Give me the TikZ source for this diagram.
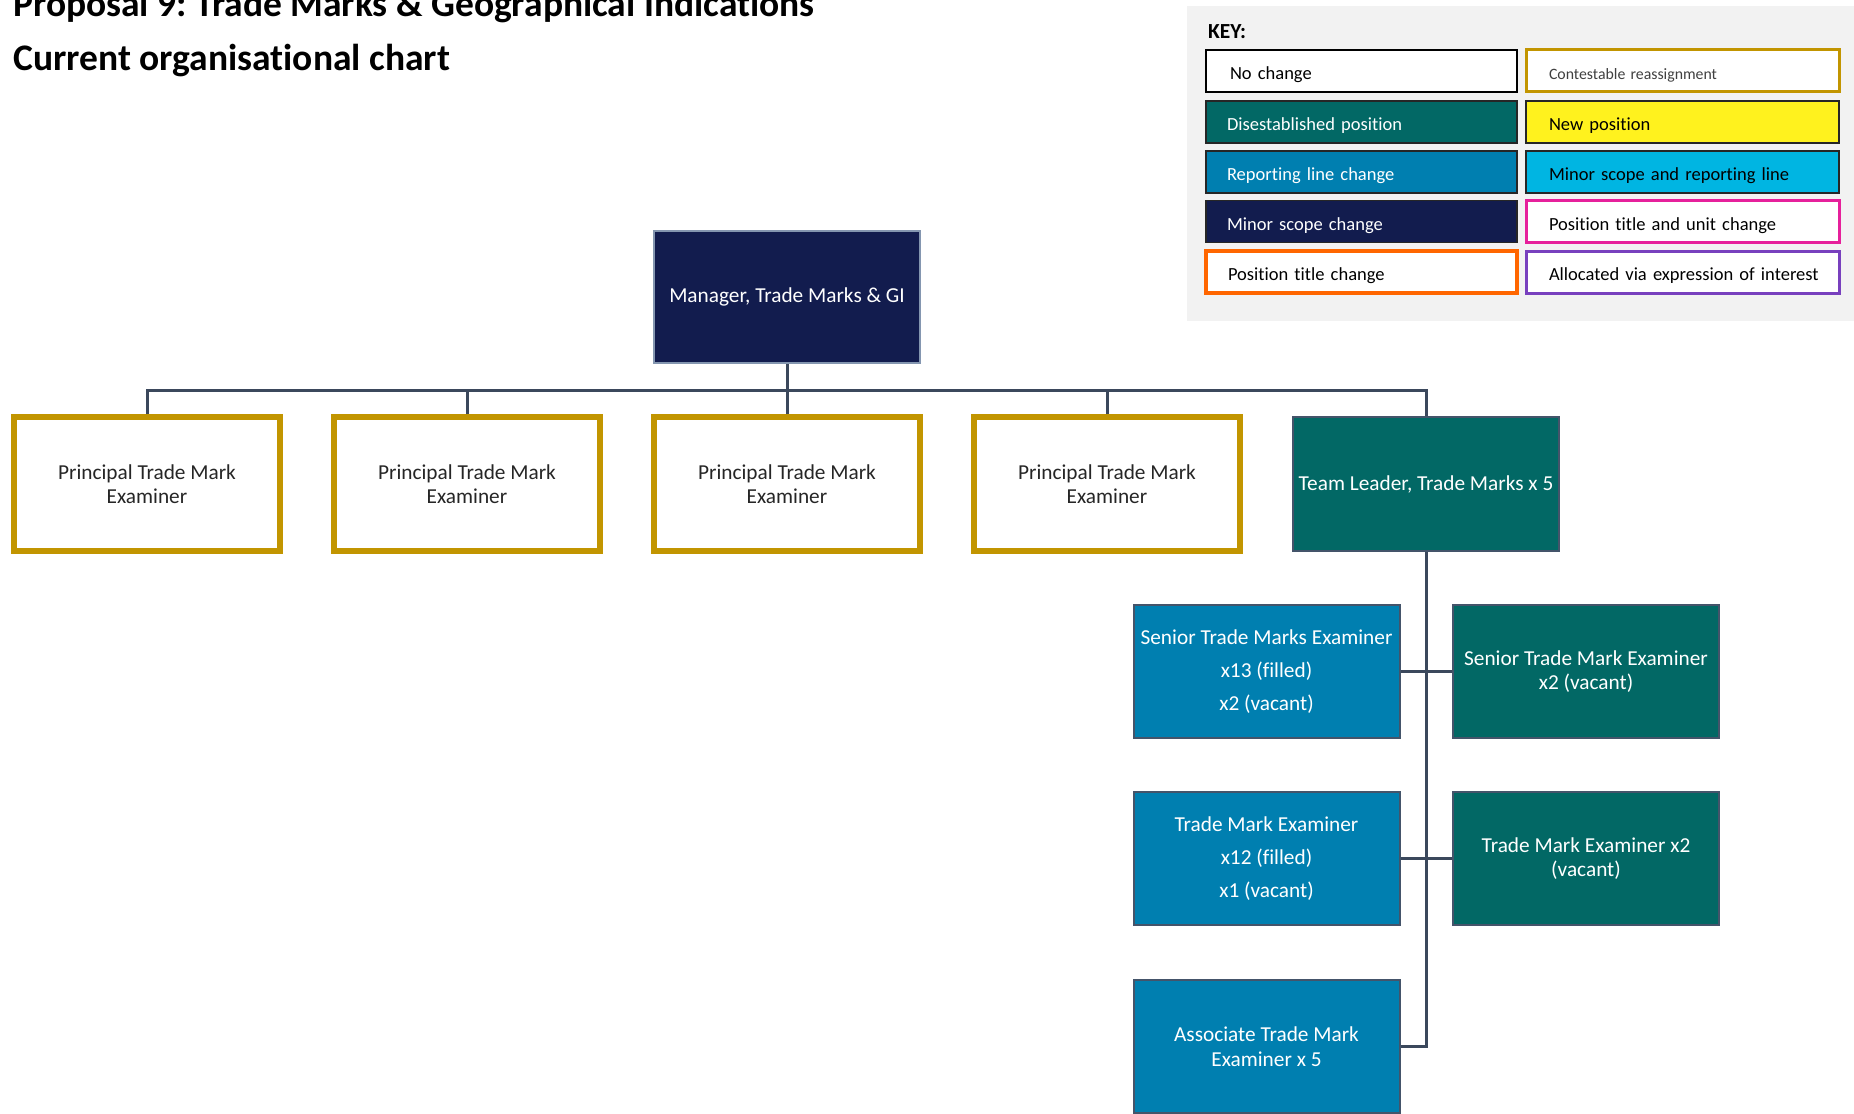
\documentclass[tikz,border=0pt]{standalone}
\usepackage{fontspec}
\setmainfont{Carlito}[Ligatures=NoCommon]

\definecolor{navyc}{RGB}{18,28,78}
\definecolor{tealc}{RGB}{2,104,101}
\definecolor{bluec}{RGB}{0,127,176}
\definecolor{cyanc}{RGB}{0,181,226}
\definecolor{yellowc}{RGB}{255,242,30}
\definecolor{goldc}{RGB}{194,149,0}
\definecolor{magentac}{RGB}{230,32,155}
\definecolor{orangec}{RGB}{255,102,0}
\definecolor{purplec}{RGB}{120,64,190}
\definecolor{linec}{RGB}{59,72,92}
\definecolor{edgec}{RGB}{68,84,106}
\definecolor{mgredge}{RGB}{132,150,176}
\definecolor{textdark}{RGB}{38,38,38}
\definecolor{keybg}{RGB}{242,242,242}

% key entry text: baseline set a fixed distance below the row centre
\newcommand{\keytext}[1]{\raisebox{-8.8pt}[0pt][0pt]{#1}}

\begin{document}
\frenchspacing
\begin{tikzpicture}[x=1pt,y=-1pt,
  box/.style={rectangle, minimum width=266pt, minimum height=134pt, inner sep=0pt,
    align=center, font=\fontsize{21.3}{24.5}\selectfont},
  widebox/.style={box, font=\fontsize{21.3}{33}\selectfont},
  contest/.style={fill=white, draw=goldc, line width=6pt, text=textdark},
  tealbox/.style={fill=tealc, draw=edgec, line width=2pt, text=white},
  bluebox/.style={fill=bluec, draw=edgec, line width=2pt, text=white},
  navybox/.style={fill=navyc, draw=mgredge, line width=2pt, text=white},
  conn/.style={draw=linec, line width=3pt},
  keyitem/.style={rectangle, minimum height=42pt, inner ysep=0pt, inner xsep=21pt,
    text width=269pt, align=left, font=\fontsize{18.5}{21}\selectfont},
  keyitemr/.style={keyitem, inner xsep=23pt, text width=267pt},
]
\useasboundingbox (0,0) rectangle (1854,1113);

% headings
\node[anchor=base west, inner sep=0pt, font=\bfseries\fontsize{37.5}{42}\selectfont] (title) at (13,17)
  {Proposal 9: Trade Marks \& Geographical Indications};
\node[anchor=base west, inner sep=0pt, font=\bfseries\fontsize{37.5}{42}\selectfont] (subtitle) at (13,71)
  {Current organisational chart};

% key panel
\fill[keybg] (1187,6) rectangle (1854,321);
\node[anchor=base west, inner sep=0pt, font=\bfseries\fontsize{21.5}{24}\selectfont] (keyhead) at (1208,39) {KEY:};

\node[keyitem, fill=white, draw=black, line width=2.5pt] (k1) at (1361.5,71) {\keytext{\hspace*{3pt}No change}};
\node[keyitem, fill=tealc, draw=black!85, line width=1.5pt, text=white] (k2) at (1361.5,122) {\keytext{Disestablished position}};
\node[keyitem, fill=bluec, draw=black!85, line width=1.5pt, text=white] (k3) at (1361.5,172) {\keytext{Reporting line change}};
\node[keyitem, fill=navyc, draw=black!85, line width=1.5pt, text=white] (k4) at (1361.5,221.5) {\keytext{Minor scope change}};
\node[keyitem, fill=white, draw=orangec, line width=3.5pt] (k5) at (1361.5,272) {\keytext{\hspace*{1pt}Position title change}};

\node[keyitemr, fill=white, draw=goldc, line width=3pt, text=black!75,
  font=\fontsize{15.8}{18}\selectfont] (k6) at (1682.5,71) {\keytext{Contestable reassignment}};
\node[keyitemr, fill=yellowc, draw=black!85, line width=1.5pt] (k7) at (1682.5,122) {\keytext{New position}};
\node[keyitemr, fill=cyanc, draw=black!85, line width=1.5pt] (k8) at (1682.5,172) {\keytext{Minor scope and reporting line}};
\node[keyitemr, fill=white, draw=magentac, line width=3pt] (k9) at (1682.5,221.5) {\keytext{Position title and unit change}};
\node[keyitemr, fill=white, draw=purplec, line width=3pt] (k10) at (1682.5,272) {\keytext{Allocated via expression of interest}};

% chart boxes
\node[box, navybox, minimum height=132pt] (mgr) at (787,297) {Manager, Trade Marks \& GI};

\node[box, contest] (p1) at (147,484) {Principal Trade Mark\\Examiner};
\node[box, contest] (p2) at (467,484) {Principal Trade Mark\\Examiner};
\node[box, contest] (p3) at (787,484) {Principal Trade Mark\\Examiner};
\node[box, contest] (p4) at (1107,484) {Principal Trade Mark\\Examiner};
\node[box, tealbox] (tl) at (1426,484) {Team Leader, Trade Marks x 5};

\node[widebox, bluebox, minimum height=133pt] (ste) at (1266.5,671.5)
  {Senior Trade Marks Examiner\\x13 (filled)\\x2 (vacant)};
\node[box, tealbox, minimum height=133pt] (stv) at (1586,671.5)
  {Senior Trade Mark Examiner\\x2 (vacant)};
\node[widebox, bluebox, minimum height=133pt] (tme) at (1266.5,858.5)
  {Trade Mark Examiner\\x12 (filled)\\x1 (vacant)};
\node[box, tealbox, minimum height=133pt] (tmv) at (1586,858.5)
  {Trade Mark Examiner x2\\(vacant)};
\node[box, bluebox, minimum height=133pt] (ate) at (1266.5,1046.5)
  {Associate Trade Mark\\Examiner x 5};

% reporting lines
\coordinate (bus) at (0,390);
\draw[conn] (mgr.south) -- (mgr.south |- bus);
\draw[conn] (p1.north) -- (p1.north |- bus) -| (tl.north);
\draw[conn] (p2.north) -- (p2.north |- bus);
\draw[conn] (p3.north) -- (p3.north |- bus);
\draw[conn] (p4.north) -- (p4.north |- bus);

\draw[conn] (tl.south) -- (tl.south |- ate.east) -- (ate.east);
\draw[conn, line width=2.5pt] (ste.east) -- (stv.west);
\draw[conn, line width=2.5pt] (tme.east) -- (tmv.west);
\end{tikzpicture}
\end{document}
